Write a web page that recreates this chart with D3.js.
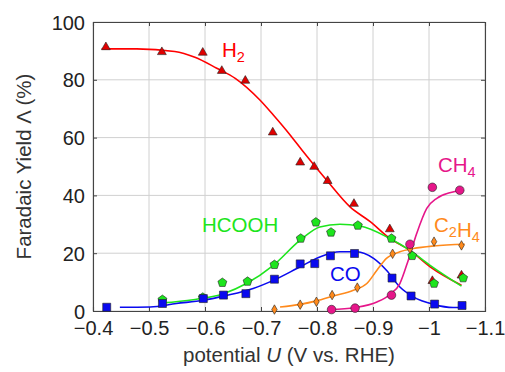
<!DOCTYPE html>
<html><head><meta charset="utf-8">
<script src="https://cdn.jsdelivr.net/npm/d3@7/dist/d3.min.js"></script>
<style>body{margin:0;background:#fff}svg{display:block}</style>
</head><body><svg id="c" width="505" height="372"></svg>
<script>
// ---- data ----
const xTicks = [-0.4,-0.5,-0.6,-0.7,-0.8,-0.9,-1.0,-1.1];
const xTickLabels = ["\u22120.4","\u22120.5","\u22120.6","\u22120.7","\u22120.8","\u22120.9","\u22121","\u22121.1"];
const yTicks = [0,20,40,60,80,100];
const yTickLabels = ["0","20","40","60","80","100"];

const potH2   = [-0.423,-0.523,-0.596,-0.630,-0.672,-0.721,-0.770,-0.795,-0.819,-0.866,-0.930,-1.006,-1.058];
const valH2   = [91.3,89.6,89.4,83.1,79.7,61.8,51.4,49.9,45.0,37.1,28.3,10.4,12.3];
const potHCOOH = [-0.524,-0.596,-0.631,-0.676,-0.724,-0.771,-0.798,-0.825,-0.873,-0.933,-0.970,-1.009,-1.061];
const valHCOOH = [3.9,4.7,9.8,10.2,16.0,25.1,30.7,27.2,29.6,25.1,19.1,9.5,11.4];
const potCO   = [-0.4245,-0.524,-0.597,-0.633,-0.673,-0.724,-0.770,-0.796,-0.824,-0.867,-0.934,-0.968,-1.010,-1.059];
const valCO   = [1.3,2.6,4.3,5.5,6.0,11.0,16.3,16.4,19.1,19.9,11.4,5.2,2.4,1.9];
const potC2H4 = [-0.724,-0.770,-0.799,-0.827,-0.872,-0.935,-0.966,-1.009,-1.058];
const valC2H4 = [0.5,2.2,3.2,5.5,8.1,19.8,21.5,24.0,22.7];
const potCH4  = [-0.826,-0.868,-0.933,-0.966,-1.006,-1.055];
const valCH4  = [0.5,1.0,5.5,23.1,42.8,41.8];

// smoothed fit curves
const fitPotH2 = [-0.4155,-0.478,-0.546,-0.582,-0.621,-0.654,-0.698,-0.722,-0.752,-0.773,-0.817,-0.859,-0.895,-0.930,-0.966,-1.002,-1.058];
const fitValH2 = [90.7,90.7,89.8,87.8,84.0,80.5,73.0,67.8,60.9,55.7,45.3,36.0,30.9,25.1,21.0,15.3,8.9];
const fitPotHCOOH = [-0.523,-0.579,-0.633,-0.674,-0.722,-0.770,-0.805,-0.841,-0.877,-0.930,-0.966,-1.002,-1.058];
const fitValHCOOH = [2.8,3.9,6.0,9.5,15.8,24.5,29.1,30.0,29.4,25.1,21.0,15.8,8.6];
const fitPotCO = [-0.448,-0.502,-0.549,-0.597,-0.639,-0.686,-0.722,-0.770,-0.805,-0.841,-0.871,-0.901,-0.924,-0.948,-0.972,-1.008,-1.043,-1.061];
const fitValCO = [1.3,1.4,2.6,3.7,5.4,7.8,10.6,15.3,18.7,20.5,20.5,18.2,14.1,8.3,4.9,2.3,1.2,1.2];
const fitPotC2H4 = [-0.734,-0.770,-0.799,-0.829,-0.865,-0.889,-0.907,-0.924,-0.948,-0.972,-1.008,-1.064];
const fitValC2H4 = [1.4,2.3,3.5,5.2,7.2,9.5,14.1,18.2,20.5,21.6,22.5,23.1];
const fitPotCH4 = [-0.823,-0.868,-0.907,-0.930,-0.948,-0.963,-0.978,-0.996,-1.014,-1.037,-1.055];
const fitValCH4 = [0.5,1.2,3.1,5.7,9.5,17.6,26.8,35.5,39.0,40.9,41.8];

// ---- layout ----
const L = 93, R = 485, T = 22, B = 311;
const FONT = "'Liberation Sans', Arial, Helvetica, sans-serif";
const svg = d3.select("#c");
const x = d3.scaleLinear().domain([-0.4,-1.1]).range([L,R]);
const y = d3.scaleLinear().domain([0,100]).range([B,T]);

// grid
const g = svg.append("g");
g.selectAll(".gx").data(xTicks).join("line")
  .attr("x1",d=>x(d)).attr("x2",d=>x(d)).attr("y1",T).attr("y2",B)
  .attr("stroke","#d0d0d0").attr("stroke-width",1);
g.selectAll(".gy").data(yTicks).join("line")
  .attr("y1",d=>y(d)).attr("y2",d=>y(d)).attr("x1",L).attr("x2",R)
  .attr("stroke","#d0d0d0").attr("stroke-width",1);

// axes with inner ticks
const axB = svg.append("g").attr("transform",`translate(0,${B})`)
  .call(d3.axisBottom(x).tickValues(xTicks).tickSize(-4).tickPadding(8).tickFormat((d,i)=>xTickLabels[i]));
const axT = svg.append("g").attr("transform",`translate(0,${T})`)
  .call(d3.axisTop(x).tickValues(xTicks).tickSize(-4).tickFormat(""));
const axL = svg.append("g").attr("transform",`translate(${L},0)`)
  .call(d3.axisLeft(y).tickValues(yTicks).tickSize(-4).tickPadding(8).tickFormat((d,i)=>yTickLabels[i]));
const axR = svg.append("g").attr("transform",`translate(${R},0)`)
  .call(d3.axisRight(y).tickValues(yTicks).tickSize(-4).tickFormat(""));
[axB,axT,axL,axR].forEach(a=>{
  a.select(".domain").attr("stroke","#444").attr("stroke-width",1.1);
  a.selectAll(".tick line").attr("stroke","#444");
  a.selectAll("text").attr("font-family",FONT).attr("font-size",20).attr("fill","#222");
});
axB.selectAll("text").attr("dy","0.78em");
axL.selectAll("text").attr("dy","0.35em");

// axis labels
svg.append("text").attr("x",(L+R)/2).attr("y",362).attr("text-anchor","middle")
  .attr("font-family",FONT).attr("font-size",20.5).attr("fill","#333")
  .html('potential <tspan font-style="italic">U</tspan> (V vs. RHE)');
svg.append("text").attr("transform",`translate(31,${(T+B)/2}) rotate(-90)`).attr("text-anchor","middle")
  .attr("font-family",FONT).attr("font-size",20.5).attr("fill","#333")
  .text("Faradaic Yield \u039B (%)");

// series
const pentagon = {draw(ctx,size){const r=Math.sqrt(size/2.378);for(let i=0;i<5;i++){const a=-Math.PI/2+i*2*Math.PI/5;const px=r*Math.cos(a),py=r*Math.sin(a);i?ctx.lineTo(px,py):ctx.moveTo(px,py);}ctx.closePath();}};
const series = [
  {pot:potH2,val:valH2,fp:fitPotH2,fv:fitValH2,color:"#ff0000",fill:"#e00000",sym:d3.symbolTriangle,size:34},
  {pot:potHCOOH,val:valHCOOH,fp:fitPotHCOOH,fv:fitValHCOOH,color:"#1de51d",fill:"#1de51d",sym:pentagon,size:52},
  {pot:potCO,val:valCO,fp:fitPotCO,fv:fitValCO,color:"#0a0aef",fill:"#0a0aef",sym:d3.symbolSquare,size:64},
  {pot:potC2H4,val:valC2H4,fp:fitPotC2H4,fv:fitValC2H4,color:"#ff8a1c",fill:"#ff8a1c",sym:d3.symbolDiamond,size:26},
  {pot:potCH4,val:valCH4,fp:fitPotCH4,fv:fitValCH4,color:"#e6168a",fill:"#e6168a",sym:d3.symbolCircle,size:58}
];
const line = d3.line().x(d=>x(d[0])).y(d=>y(d[1])).curve(d3.curveMonotoneX);
series.forEach(s=>{
  svg.append("path").datum(d3.zip(s.fp,s.fv)).attr("d",line)
    .attr("fill","none").attr("stroke",s.color).attr("stroke-width",1.6);
});
series.forEach(s=>{
  svg.append("g").selectAll("path").data(d3.zip(s.pot,s.val)).join("path")
    .attr("transform",d=>`translate(${x(d[0])},${y(d[1])})`)
    .attr("d",d3.symbol().type(s.sym).size(s.size))
    .attr("fill",s.fill).attr("stroke","#222").attr("stroke-width",0.6);
});

// series labels
function lab(px,py,color,parts){
  const t = svg.append("text").attr("x",px).attr("y",py).attr("font-family",FONT).attr("font-size",20.5).attr("fill",color);
  parts.forEach(p=>{
    if(typeof p==="string") t.append("tspan").text(p);
    else t.append("tspan").attr("font-size",14.5).attr("dy",5).text(p.sub);
    if(typeof p!=="string") t.append("tspan").attr("dy",-5).text("");
  });
}
lab(222,56.5,"#ff0000",["H",{sub:"2"}]);
lab(202,231.5,"#1de51d",["HCOOH"]);
lab(330,280.5,"#0a0aef",["CO"]);
lab(438,171.5,"#e6168a",["CH",{sub:"4"}]);
lab(434,231.5,"#ff8a1c",["C",{sub:"2"},"H",{sub:"4"}]);
</script></body></html>
